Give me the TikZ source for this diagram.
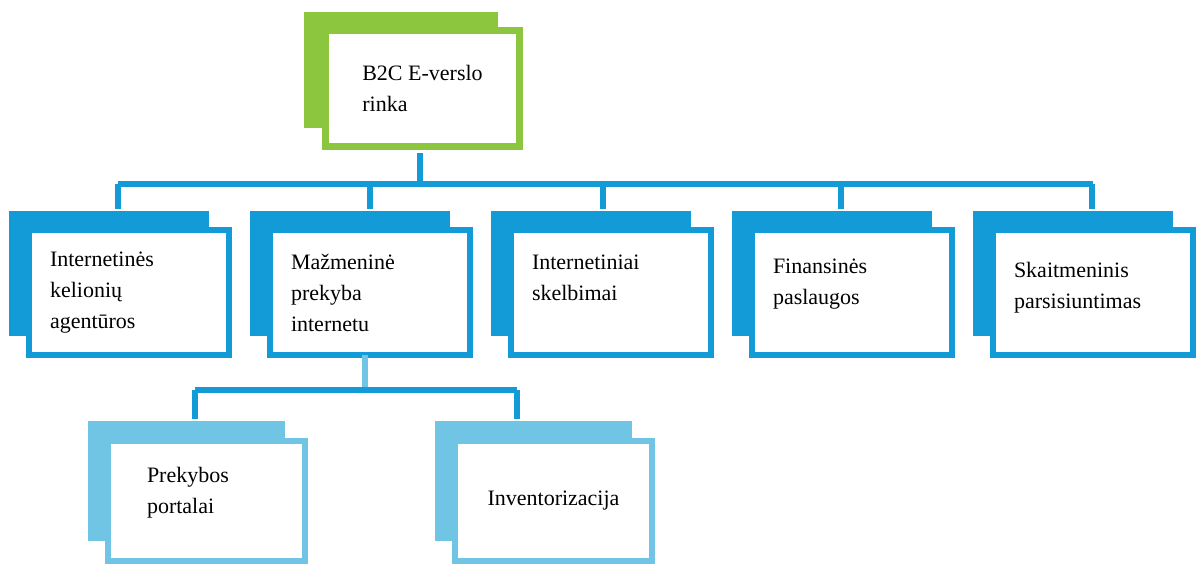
\documentclass[tikz,border=0pt]{standalone}
\usepackage{fontspec}
\setmainfont{Liberation Serif}
\usetikzlibrary{shadows}

\definecolor{rgreen}{HTML}{8CC63F}
\definecolor{rblue}{HTML}{129BD7}
\definecolor{rlight}{HTML}{70C5E5}

\begin{document}
\begin{tikzpicture}[
                    x=1pt,
                    y=-1pt,
                    node distance=241pt,
                    font=\fontsize{22}{31}\selectfont,
                    root/.style={draw=rgreen, line width=7pt, fill=white,
                        minimum width=194pt, minimum height=116pt, align=left,
                        general shadow={fill=rgreen, shadow xshift=-22pt, shadow yshift=19pt}},
                    market/.style={draw=rblue, line width=6pt, fill=white,
                        minimum width=200pt, minimum height=125pt,
                        text width=158pt, inner xsep=21pt, align=left,
                        general shadow={fill=rblue, shadow xshift=-20pt, shadow yshift=19pt}},
                    sub/.style={draw=rlight, line width=6pt, fill=white,
                        minimum width=197pt, minimum height=120pt, align=left,
                        general shadow={fill=rlight, shadow xshift=-20pt, shadow yshift=20pt}},
                    raised/.style={execute at end node={\\[#1]\mbox{}}},
                    link/.style={draw=rblue, line width=5.5pt},
                    lightlink/.style={draw=rlight, line width=5.5pt}
                ]
                \useasboundingbox (0,0) rectangle (1200,563);

                \node (top) [root] at (422.5,88.5) {B2C E-verslo\\rinka};

                \node (b1) [market] at (129,292.5) {Internetinės\\kelionių\\agentūros};
                \node (b2) [market, right of=b1] {Mažmeninė\\prekyba\\internetu};
                \node (b3) [market, raised=-1pt, right of=b2] {Internetiniai\\skelbimai};
                \node (b4) [market, raised=-9pt, right of=b3] {Finansinės\\paslaugos};
                \node (b5) [market, raised=-17pt, right of=b4] {Skaitmeninis\\parsisiuntimas};

                \node (p1) [sub, raised=-9pt, text width=118pt, inner xsep=39.5pt] at (206,501) {Prekybos\\portalai};
                \node (p2) [sub] at (553.5,501) {Inventorizacija};

                % first level
                \coordinate (bus) at (420,184);
                \coordinate (bus1) at (118,184);
                \coordinate (bus5) at (1093,184);
                \draw[link] ([xshift=-2.5pt,yshift=-3pt]top.south) -- (bus);
                \draw[link] (bus1) -- (bus5);
                \foreach \b/\dx in {b1/-11, b2/0, b3/-8, b4/-11, b5/-1}
                    \draw[link] ([xshift=\dx pt]\b.north |- bus) -- ([xshift=\dx pt,yshift=18pt]\b.north);

                % second level
                \coordinate (fork) at (365,390);
                \draw[lightlink] ([xshift=-5pt,yshift=3pt]b2.south) -- (fork);
                \draw[link] ([xshift=-11pt]p1.north |- fork) -- ([xshift=-36.5pt]p2.north |- fork);
                \draw[link] ([xshift=-11pt]p1.north |- fork) -- ([xshift=-11pt,yshift=19pt]p1.north);
                \draw[link] ([xshift=-36.5pt]p2.north |- fork) -- ([xshift=-36.5pt,yshift=19pt]p2.north);
            \end{tikzpicture}
\end{document}
